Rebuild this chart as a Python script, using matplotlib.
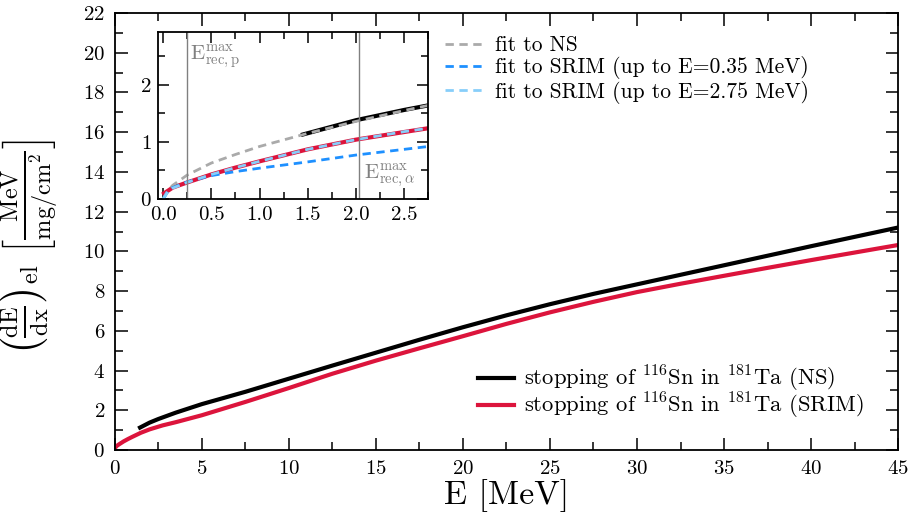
import matplotlib
matplotlib.use("Agg")
import matplotlib.pyplot as plt
from matplotlib.ticker import MultipleLocator

plt.rcParams['font.family'] = 'serif'
plt.rcParams['font.serif'] = ['cmr10']
plt.rcParams['mathtext.fontset'] = 'cm'
plt.rcParams['axes.formatter.use_mathtext'] = True

# stopping of 116Sn in 181Ta, NS
e_ns = [1.45, 2.0, 2.5, 3.5, 5, 7.5, 10, 12.5, 15, 17.5, 20, 22.5, 25, 27.5,
        30, 32.5, 35, 37.5, 40, 42.5, 45]
dedx_ns = [1.13, 1.38, 1.56, 1.88, 2.31, 2.93, 3.59, 4.25, 4.9, 5.55, 6.18,
           6.78, 7.34, 7.86, 8.34, 8.82, 9.3, 9.78, 10.26, 10.73, 11.2]

# stopping of 116Sn in 181Ta, SRIM
e_srim = [0.01, 0.1, 0.25, 0.5, 0.75, 1.0, 1.5, 2.0, 2.75, 3.5, 5, 7.5, 10,
          12.5, 15, 17.5, 20, 22.5, 25, 27.5, 30, 32.5, 35, 37.5, 40, 42.5, 45]
dedx_srim = [0.1, 0.2, 0.29, 0.43, 0.55, 0.66, 0.87, 1.04, 1.24, 1.4, 1.75,
             2.42, 3.12, 3.84, 4.5, 5.12, 5.73, 6.35, 6.93, 7.46, 7.95, 8.37,
             8.77, 9.17, 9.56, 9.94, 10.32]

# fits shown in the inset
e_fit = [0.0, 0.05, 0.1, 0.25, 0.5, 0.75, 1.0, 1.5, 2.0, 2.5, 2.75]
fit_ns = [0.0, 0.15, 0.24, 0.42, 0.63, 0.78, 0.92, 1.15, 1.36, 1.55, 1.64]
fit_srim_035 = [0.0, 0.13, 0.2, 0.3, 0.41, 0.48, 0.54, 0.65, 0.77, 0.87, 0.92]
fit_srim_275 = [0.0, 0.13, 0.19, 0.29, 0.43, 0.55, 0.66, 0.87, 1.04, 1.18, 1.24]

e_rec_p = 0.25
e_rec_alpha = 2.03

black = "black"
red = "#dc143c"
grey = "#aaaaaa"
blue = "#1e90ff"
lightblue = "#87cefa"

fig = plt.figure(figsize=(9.09, 5.24), dpi=100)
ax = fig.add_axes([0.1263, 0.1412, 0.8617, 0.834])

ax.plot(e_ns, dedx_ns, color=black, lw=3,
        label=r"stopping of $^{116}$Sn in $^{181}$Ta (NS)")
ax.plot(e_srim, dedx_srim, color=red, lw=3,
        label=r"stopping of $^{116}$Sn in $^{181}$Ta (SRIM)")
ax.set_xlim(0, 45)
ax.set_ylim(0, 22)
ax.xaxis.set_major_locator(MultipleLocator(5))
ax.xaxis.set_minor_locator(MultipleLocator(2.5))
ax.yaxis.set_major_locator(MultipleLocator(2))
ax.yaxis.set_minor_locator(MultipleLocator(1))
ax.tick_params(which="both", direction="in", top=True, right=True,
               labelsize=15, width=1.1)
ax.tick_params(which="major", length=9, pad=7)
ax.tick_params(which="minor", length=5.5)
for s in ax.spines.values():
    s.set_linewidth(1.3)
ax.set_xlabel("E [MeV]", fontsize=24.5, labelpad=1)
ax.set_ylabel(r"$\left(\frac{\mathrm{dE}}{\mathrm{dx}}\right)_{\mathrm{el}}\ "
              r"\left[\frac{\mathrm{MeV}}{\mathrm{mg/cm^2}}\right]$",
              fontsize=25)
ax.yaxis.set_label_coords(-0.07, 0.465)
ax.legend(loc="upper left", bbox_to_anchor=(0.452, 0.218), frameon=False,
          fontsize=16.3, handlelength=1.6, handletextpad=0.45,
          labelspacing=-0.12, borderaxespad=0)

# inset
ins = fig.add_axes([0.1741, 0.6202, 0.2971, 0.3193])
ins.plot(e_ns, dedx_ns, color=black, lw=3)
ins.plot(e_srim, dedx_srim, color=red, lw=3)
l1, = ins.plot(e_fit, fit_ns, color=grey, lw=2, ls=(0, (3, 2)),
               label="fit to NS")
l2, = ins.plot(e_fit, fit_srim_035, color=blue, lw=2, ls=(0, (3, 2)),
               label="fit to SRIM (up to E=0.35 MeV)")
l3, = ins.plot(e_fit, fit_srim_275, color=lightblue, lw=2, ls=(0, (3, 2)),
               label="fit to SRIM (up to E=2.75 MeV)")
ins.axvline(e_rec_p, color="#808080", lw=1)
ins.axvline(e_rec_alpha, color="#808080", lw=1)
ins.text(e_rec_p + 0.03, 2.5, r"$\mathrm{E^{max}_{rec,p}}$", color="#808080",
         fontsize=15, va="center", ha="left")
ins.text(e_rec_alpha + 0.05, 0.4, r"$\mathrm{E^{max}_{rec,\alpha}}$",
         color="#808080", fontsize=15, va="center", ha="left")
ins.set_xlim(-0.05, 2.75)
ins.set_ylim(0, 2.93)
ins.xaxis.set_major_locator(MultipleLocator(0.5))
ins.xaxis.set_minor_locator(MultipleLocator(0.25))
ins.yaxis.set_major_locator(MultipleLocator(1))
ins.yaxis.set_minor_locator(MultipleLocator(0.5))
ins.xaxis.set_major_formatter(plt.FormatStrFormatter("%.1f"))
ins.tick_params(which="both", direction="in", top=True, right=True,
                labelsize=15, width=1.1)
ins.tick_params(which="major", length=8, pad=5)
ins.tick_params(which="minor", length=5)
for s in ins.spines.values():
    s.set_linewidth(1.3)

fig.legend(handles=[l1, l2, l3], loc="upper left",
           bbox_to_anchor=(0.4805, 0.948), frameon=False, fontsize=15.5,
           handlelength=1.8, handletextpad=0.5, labelspacing=0.05,
           borderaxespad=0)

fig.savefig("out.png", dpi=100)
